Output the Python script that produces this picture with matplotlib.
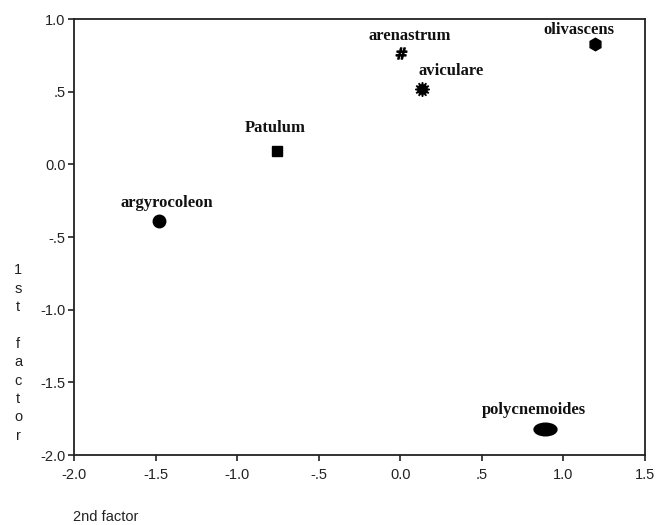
import matplotlib
matplotlib.use("Agg")
import matplotlib.pyplot as plt
from matplotlib.path import Path
from matplotlib.transforms import Affine2D

species = ["argyrocoleon", "Patulum", "arenastrum", "aviculare", "olivascens", "polycnemoides"]
factor2 = [-1.48, -0.755, 0.005, 0.135, 1.195, 0.885]
factor1 = [-0.39, 0.09, 0.765, 0.52, 0.83, -1.82]

xticks = [-2.0, -1.5, -1.0, -0.5, 0.0, 0.5, 1.0, 1.5]
xticklabels = ["-2.0", "-1.5", "-1.0", "-.5", "0.0", ".5", "1.0", "1.5"]
yticks = [-2.0, -1.5, -1.0, -0.5, 0.0, 0.5, 1.0]
yticklabels = ["-2.0", "-1.5", "-1.0", "-.5", "0.0", ".5", "1.0"]

ellipse = Path.unit_circle().transformed(Affine2D().scale(1.0, 0.55))
markers = ["o", "s", r"$\mathregular{\#}$", (12, 1, 0), "h", ellipse]
sizes = [9, 7.5, 8, 10.5, 9, 16.5]
# label offsets in points (dx, dy), label centre relative to marker
offsets = [(6, 13), (-1, 17), (6, 12.5), (21, 13), (-11.5, 10), (-8, 13.5)]

fig = plt.figure(figsize=(6.57, 5.25), dpi=100)
ax = fig.add_axes([0.1126, 0.1333, 0.8691, 0.8305])

for x, y, name, m, s, (dx, dy) in zip(factor2, factor1, species, markers, sizes, offsets):
    ax.plot(x, y, marker=m, markersize=s, color="black", linestyle="none")
    ax.annotate(name, (x, y), xytext=(dx, dy), textcoords="offset points",
                ha="center", va="center", fontfamily="Liberation Serif",
                fontweight="bold", fontsize=12, color="#111111")

ax.set_xlim(-2.0, 1.5)
ax.set_ylim(-2.0, 1.0)
ax.set_xticks(xticks)
ax.set_xticklabels(xticklabels)
ax.set_yticks(yticks)
ax.set_yticklabels(yticklabels)
for lab in ax.get_xticklabels() + ax.get_yticklabels():
    lab.set_fontfamily("Liberation Sans")
    lab.set_fontsize(10.5)
    lab.set_color("#222222")
ax.tick_params(direction="out", length=4, width=1.2, colors="#222222", pad=2)
ax.tick_params(axis="x", pad=5)
for sp in ax.spines.values():
    sp.set_linewidth(1.3)
    sp.set_color("#222222")

fig.text(18 / 657, 1 - 353 / 525, "1\ns\nt\n\nf\na\nc\nt\no\nr", ha="center", va="center",
         fontfamily="Liberation Sans", fontsize=10.5, linespacing=1.4, color="#222222")
fig.text(73 / 657, 1 - 517 / 525, "2nd factor", ha="left", va="center",
         fontfamily="Liberation Sans", fontsize=10.5, color="#222222")

fig.savefig("out.png", dpi=100)
